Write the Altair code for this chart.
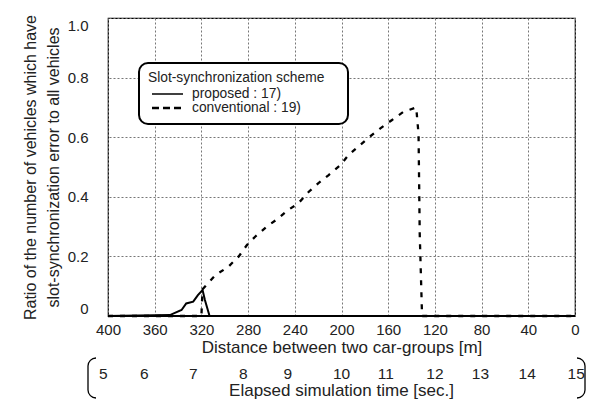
import altair as alt
import pandas as pd

# ---- data ----
prop_dist = [400, 347, 337, 333, 327, 323, 319, 317, 313, 0]
prop_val = [0, 0.003, 0.02, 0.042, 0.048, 0.07, 0.087, 0.054, 0, 0]

conv_dist = [400, 320, 319, 308, 297, 288, 281, 274, 264, 254, 246, 237, 228, 220,
             211, 201, 194, 186, 176, 167, 157, 147, 136, 134, 133, 131, 0]
conv_val = [0, 0, 0.09, 0.137, 0.165, 0.2, 0.238, 0.266, 0.3, 0.328, 0.355, 0.378,
            0.417, 0.445, 0.473, 0.506, 0.54, 0.567, 0.601, 0.629, 0.657, 0.685,
            0.70, 0.61, 0.277, 0, 0]

time_labels = ["5", "6", "7", "8", "9", "10", "11", "12", "13", "14", "15"]
time_at_dist = [404, 369, 327, 284, 246, 200, 162, 120, 81, 41, -1]

legend_title = "Slot-synchronization scheme"
legend_items = ["proposed : 17)", "conventional : 19)"]

FONT = "Liberation Sans"
W, H = 467, 298

prop = pd.DataFrame({"d": prop_dist, "v": prop_val, "i": range(len(prop_dist))})
conv = pd.DataFrame({"d": conv_dist, "v": conv_val, "i": range(len(conv_dist))})
tdf = pd.DataFrame({"d": time_at_dist, "t": time_labels})

xscale = alt.Scale(domain=[0, 400], reverse=True, nice=False)
yscale = alt.Scale(domain=[0, 1], nice=False)

xaxis = alt.Axis(values=list(range(0, 401, 40)), format="d", title="Distance between two car-groups [m]",
                 grid=True, gridDash=[2, 2], gridColor="#777", gridWidth=1, ticks=False,
                 domain=False, labelFontSize=15, titleFontSize=17, labelPadding=6,
                 titlePadding=2, titleFontWeight="normal", labelColor="#222", titleColor="#222",
                 labelFlush=False)
yaxis = alt.Axis(values=[round(0.1 * k, 1) for k in range(11)],
                 labelExpr="round(datum.value*10)%2==0 ? (datum.value==0 ? '0' : format(datum.value,'.1f')) : ''",
                 title=["Ratio of the number of vehicles which have",
                        "slot-synchronization error to all vehicles"],
                 grid=True, gridDash=[2, 2], gridColor="#777", gridWidth=1, ticks=False,
                 domain=False, labelFontSize=15, titleFontSize=16, labelPadding=20,
                 labelFlush=True,
                 titlePadding=6, titleFontWeight="normal", labelColor="#222", titleColor="#222",
                 titleLineHeight=23)

base_enc = dict(
    x=alt.X("d:Q", scale=xscale, axis=xaxis),
    y=alt.Y("v:Q", scale=yscale, axis=yaxis),
    order="i:Q",
)

conv_line = alt.Chart(conv).mark_line(color="black", strokeWidth=2.3, strokeDash=[5, 7]).encode(**base_enc)
prop_line = alt.Chart(prop).mark_line(color="black", strokeWidth=2).encode(
    x=alt.X("d:Q", scale=xscale), y=alt.Y("v:Q", scale=yscale), order="i:Q")

bottom = alt.Chart(prop).mark_rule(color="black", strokeWidth=1.5).encode(
    x=alt.value(0), x2=alt.value(W), y=alt.value(H))

# legend
one = pd.DataFrame({"a": [0]})
LFS = 13.8
lbox = alt.Chart(one).mark_rect(fill="white", stroke="black", strokeWidth=2, cornerRadius=9).encode(
    x=alt.value(31), x2=alt.value(240), y=alt.value(45), y2=alt.value(106))
ltitle = alt.Chart(one).mark_text(text=legend_title, font=FONT, fontSize=LFS, align="left",
                                  baseline="middle", color="#222").encode(x=alt.value(40), y=alt.value(60))
l1 = alt.Chart(one).mark_rule(color="black", strokeWidth=1.5).encode(
    x=alt.value(44), x2=alt.value(75), y=alt.value(76))
l2 = alt.Chart(one).mark_rule(color="black", strokeWidth=2.5, strokeDash=[7, 4]).encode(
    x=alt.value(44), x2=alt.value(76), y=alt.value(90))
lt1 = alt.Chart(one).mark_text(text=legend_items[0], font=FONT, fontSize=LFS, align="left",
                               baseline="middle", color="#222").encode(x=alt.value(84), y=alt.value(76))
lt2 = alt.Chart(one).mark_text(text=legend_items[1], font=FONT, fontSize=LFS, align="left",
                               baseline="middle", color="#222").encode(x=alt.value(84), y=alt.value(90))

# time axis (second scale row)
ttext = alt.Chart(tdf).mark_text(font=FONT, fontSize=15.5, baseline="middle", color="#222").encode(
    x=alt.X("d:Q", scale=xscale), y=alt.value(H + 58), text="t:N")
ttitle = alt.Chart(one).mark_text(text="Elapsed simulation time [sec.]", font=FONT, fontSize=17,
                                  baseline="middle", color="#222").encode(x=alt.value(W / 2), y=alt.value(H + 75))

BT, BB = H + 42, H + 82
lb = alt.Chart(one).mark_rect(fill="white", fillOpacity=0, stroke="black", strokeWidth=1.3,
                              cornerRadius=8).encode(
    x=alt.value(-20), x2=alt.value(20), y=alt.value(BT), y2=alt.value(BB))
rb = alt.Chart(one).mark_rect(fill="white", fillOpacity=0, stroke="black", strokeWidth=1.3,
                              cornerRadius=8).encode(
    x=alt.value(W - 20), x2=alt.value(W + 10), y=alt.value(BT), y2=alt.value(BB))
lcover = alt.Chart(one).mark_rect(fill="white").encode(
    x=alt.value(-12), x2=alt.value(22), y=alt.value(BT - 2), y2=alt.value(BB + 2))
rcover = alt.Chart(one).mark_rect(fill="white").encode(
    x=alt.value(W - 22), x2=alt.value(W + 2), y=alt.value(BT - 2), y2=alt.value(BB + 2))

chart = alt.layer(conv_line, prop_line, bottom, lbox, ltitle, l1, l2, lt1, lt2,
                  lb, rb, lcover, rcover, ttext, ttitle).properties(
    width=W, height=H,
    autosize=alt.AutoSizeParams(type="none"),
    padding={"left": 100, "top": 10, "right": 11, "bottom": 84},
).configure(font=FONT).configure_view(stroke="black", strokeWidth=1.2)

chart.save("out.html", embed_options={"renderer": "svg", "actions": False})
